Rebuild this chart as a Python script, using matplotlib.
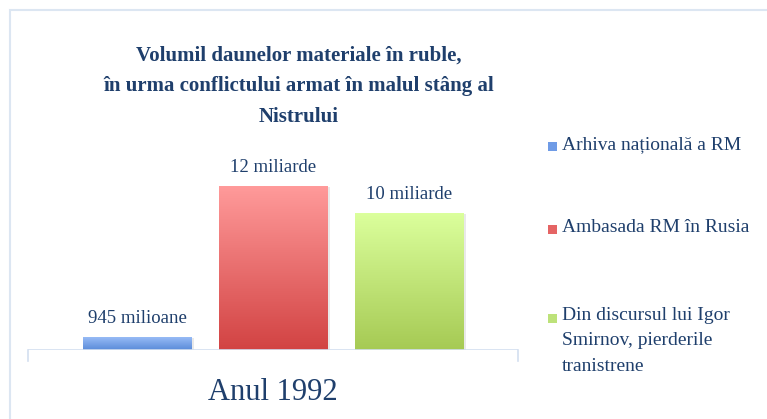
import numpy as np
import matplotlib
matplotlib.use("Agg")
import matplotlib.pyplot as plt
from matplotlib.patches import Rectangle

# data
sources = ["Arhiva națională a RM",
           "Ambasada RM în Rusia",
           "Din discursul lui Igor\nSmirnov, pierderile\ntranistrene"]
values_mld = [0.945, 12, 10]
value_labels = ["945 milioane", "12 miliarde", "10 miliarde"]
category = "Anul 1992"
title = "Volumil daunelor materiale în ruble,\nîn urma conflictului armat în malul stâng al\nNistrului"

# gradient colours (top, bottom) for each bar
grad_top = ["#97bbf6", "#ff9a9a", "#dbff9c"]
grad_bottom = ["#5a8bd9", "#d24343", "#a6ca54"]
legend_col = ["#6f9be6", "#e56464", "#bde27a"]

navy = "#1f3f6c"
frame = "#dce6f2"
serif = "Liberation Serif"

W, H = 767, 419
fig = plt.figure(figsize=(W / 100, H / 100), dpi=100)

# outer chart frame
fig.add_artist(Rectangle((10 / W, -0.01), 1.0, (H - 10) / H + 0.01,
                         transform=fig.transFigure, fill=False,
                         edgecolor=frame, lw=1.5))

# axes: x from 28 to 518 px, baseline at y=350 px
ax_left, ax_right = 28, 518
ax_bottom, ax_top = 350, 150
ax = fig.add_axes([ax_left / W, 1 - ax_bottom / H,
                   (ax_right - ax_left) / W, (ax_bottom - ax_top) / H])
x = np.arange(len(values_mld))
bar_w = 0.80
ymax = 12 * (ax_bottom - ax_top) / (350 - 186)
ax.set_xlim(-0.805, 2.80)
ax.set_ylim(0, ymax)

bars = ax.bar(x, values_mld, width=bar_w, color="none", edgecolor="none", zorder=2)
for i, b in enumerate(bars):
    # soft shadow
    ax.add_patch(Rectangle((b.get_x() + 0.015, -0.12), b.get_width(), b.get_height() + 0.04,
                           facecolor="#c8c8c8", edgecolor="none", alpha=0.4, zorder=1))
    c1 = np.array(matplotlib.colors.to_rgb(grad_top[i]))
    c2 = np.array(matplotlib.colors.to_rgb(grad_bottom[i]))
    t = np.linspace(0, 1, 100)[:, None]
    img = (c1 * (1 - t) + c2 * t)[:, None, :]
    im = ax.imshow(img, extent=[b.get_x(), b.get_x() + b.get_width(), 0, b.get_height()],
                   aspect="auto", origin="upper", zorder=2)
    im.set_clip_path(b)
    ax.text(b.get_x() + b.get_width() / 2, b.get_height() + ymax * 0.05, value_labels[i],
            ha="center", va="bottom", fontsize=13.5, color=navy, family=serif)

for s in ax.spines.values():
    s.set_visible(False)
ax.set_yticks([])
ax.set_xticks([])
ax.axhline(0, color="#d3dff0", lw=1.2, zorder=3)
for xe in ax.get_xlim():
    ax.plot([xe, xe], [0, -ymax * 0.055], color="#d3dff0", lw=1.2, clip_on=False)

fig.text(273 / W, 1 - 392 / H, category, ha="center", va="center",
         fontsize=22, color=navy, family=serif)

fig.text(299 / W, 1 - 86 / H, title, ha="center", va="center", fontsize=15,
         fontweight="bold", color=navy, family=serif, linespacing=1.7)

# legend
leg_y = [147, 230, 318]
for i, lab in enumerate(sources):
    y0 = 1 - leg_y[i] / H
    fig.add_artist(Rectangle((548 / W, y0 - 4.5 / H), 9 / W, 9 / H,
                             transform=fig.transFigure, facecolor=legend_col[i],
                             edgecolor="none"))
    fig.text(562 / W, y0 + 11 / H, lab, ha="left", va="top", fontsize=14,
             color=navy, family=serif, linespacing=1.65)

fig.savefig("out.png", dpi=100)
